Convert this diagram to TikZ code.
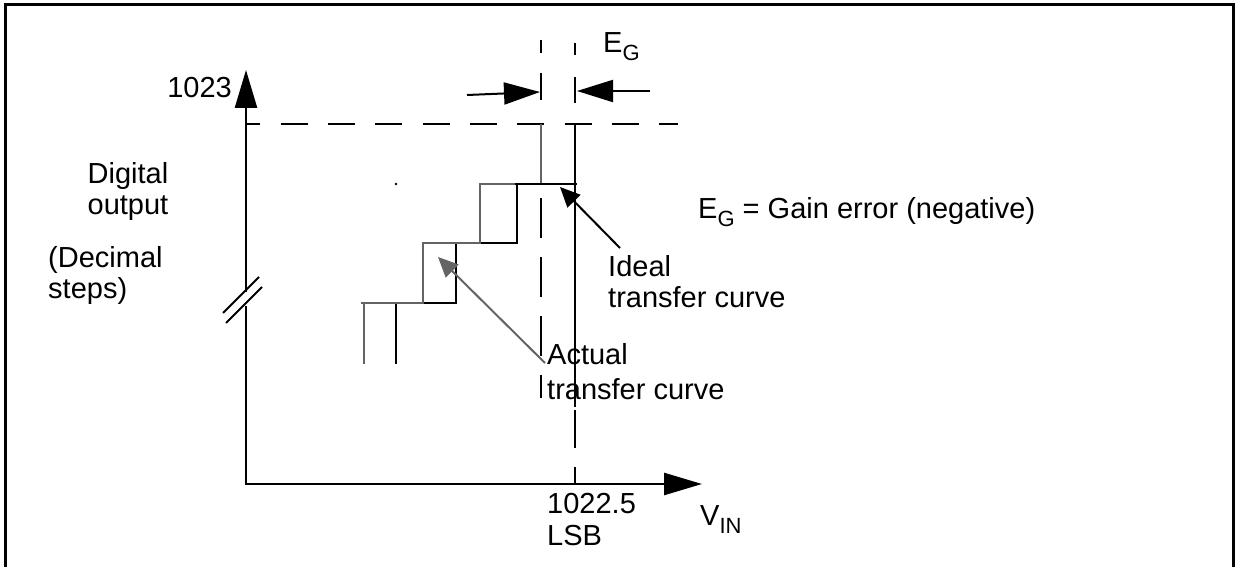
\documentclass[tikz,border=0pt]{standalone}
\usepackage{fontspec}
\setmainfont{Liberation Sans}
\usetikzlibrary{arrows.meta}
\newcommand{\mysub}[1]{\raisebox{-0.3em}{\fontsize{22}{22}\selectfont #1}}
\definecolor{actgray}{RGB}{100,100,100}
\tikzset{
  lbl/.style={inner sep=0pt, font=\fontsize{29}{31}\selectfont},
  axisline/.style={line width=2.6pt, -{Triangle[length=38pt,width=22pt]}},
  frameline/.style={line width=3pt},
  guide/.style={line width=2pt, black},
  ideal/.style={line width=2.2pt, black},
  actual/.style={line width=2.2pt, actgray},
  dimarrow/.style={line width=2pt, -{Triangle[length=36pt,width=22pt]}},
  leader/.style={line width=2pt, -{Triangle[length=20pt,width=18pt]}}
}
\begin{document}
\begin{tikzpicture}[x=1pt,y=-1pt]
\useasboundingbox (0,0) rectangle (1239,567);
% frame (open at the bottom)
\draw[frameline] (5,567) -- (5,5) -- (1233,5) -- (1233,567);

% axes
\coordinate (O) at (246,484);
\coordinate (ytop) at (246,70);
\coordinate (ybreakhi) at (246,292);
\coordinate (ybreaklo) at (246,306);
\coordinate (xend) at (702,484);
\draw[axisline] (ybreakhi) -- (ytop);
\draw[axisline] (ybreaklo) -- (O) -- (xend);
% axis break marks
\coordinate (b1a) at (223,313); \coordinate (b1b) at (259,277);
\coordinate (b2a) at (226,323); \coordinate (b2b) at (262,287);
\draw[line width=2pt] (b1a) -- (b1b);
\draw[line width=2pt] (b2a) -- (b2b);

% dashed full-scale line
\coordinate (h1) at (247,124); \coordinate (h2) at (678,124);
\draw[guide, dash pattern=on 27pt off 20.3pt, dash phase=13.6pt] (h1) -- (h2);

% top dashed guides
\coordinate (g1a) at (541,40); \coordinate (g1b) at (541,100);
\coordinate (g2a) at (575,43); \coordinate (g2b) at (575,103);
\draw[guide, dash pattern=on 13pt off 20pt on 27pt off 20pt] (g1a) -- (g1b);
\draw[guide, dash pattern=on 12pt off 22pt on 26pt off 20pt] (g2a) -- (g2b);

% E_G dimension arrows
\coordinate (la) at (467,95); \coordinate (lt) at (540,92);
\coordinate (ra) at (650,91); \coordinate (rt) at (577,91);
\draw[dimarrow] (la) -- (lt);
\draw[dimarrow] (ra) -- (rt);

% ideal transfer curve (black)
\coordinate (i0) at (396,364);
\coordinate (i1) at (396,303);
\coordinate (i2) at (456,303);
\coordinate (i3) at (456,243);
\coordinate (i4) at (517,243);
\coordinate (i5) at (517,184);
\coordinate (i6) at (577,184);
\draw[ideal] (i0) -- (i1) -- (i2) -- (i3) -- (i4) -- (i5) -- (i6);

% actual transfer curve (gray)
\coordinate (a0) at (364,364);
\coordinate (a1) at (364,303);
\coordinate (a1l) at (361,303);
\coordinate (a2) at (423,303);
\coordinate (a3) at (423,243);
\coordinate (a4) at (480,243);
\coordinate (a5) at (480,184);
\coordinate (a6) at (541,184);
\coordinate (a7) at (541,124);
\draw[actual] (a0) -- (a1);
\draw[actual] (a1l) -- (a2) -- (a3) -- (a4) -- (a5) -- (a6) -- (a7);
% black top tread drawn over the gray one
\coordinate (i5b) at (515,184);
\draw[ideal] (i5b) -- (i6);

% ideal vertical at 1022.5 LSB
\coordinate (v1) at (575,124);
\coordinate (v2) at (575,407);
\coordinate (v3) at (575,484);
\coordinate (v2b) at (575,410);
\draw[ideal] (v1) -- (v2);
\draw[guide, dash pattern=on 38pt off 19pt] (v2b) -- (v3);

% dashed guide under actual last riser
\coordinate (d1) at (541,198);
\coordinate (d2) at (541,398);
\draw[guide, dash pattern=on 40pt off 19pt] (d1) -- (d2);

% stray dot
\fill (396,184) circle (1.3pt);

% leader arrows
\coordinate (ilt) at (560,187); \coordinate (ils) at (620,248);
\draw[leader, black] (ils) -- (ilt);
\coordinate (alt) at (438,257); \coordinate (als) at (545,363);
\draw[leader, actgray] (als) -- (alt);

% labels
\node[lbl, anchor=north west] (eg) at (603,32) {E\mysub{G}};
\node[lbl, anchor=north east] (l1023) at (232,77) {1023};
\node[lbl, anchor=north, align=center] (dig) at (128,162) {Digital\\output};
\node[lbl, anchor=north west, align=left] (dec) at (48,246) {(Decimal\\steps)};
\node[lbl, anchor=north west] (egdef) at (698,197) {E\mysub{G} = Gain error (negative)};
\node[lbl, anchor=north west, align=left] (idl) at (608,255) {Ideal\\transfer curve};
\node[lbl, anchor=north west, align=left, font=\fontsize{29}{35}\selectfont] (act) at (547,343) {Actual\\transfer curve};
\node[lbl, anchor=north west, align=left, font=\fontsize{29}{32}\selectfont] (lsb) at (547,493) {1022.5\\LSB};
\node[lbl, anchor=north west] (vin) at (700,505) {V\mysub{IN}};
\end{tikzpicture}
\end{document}
